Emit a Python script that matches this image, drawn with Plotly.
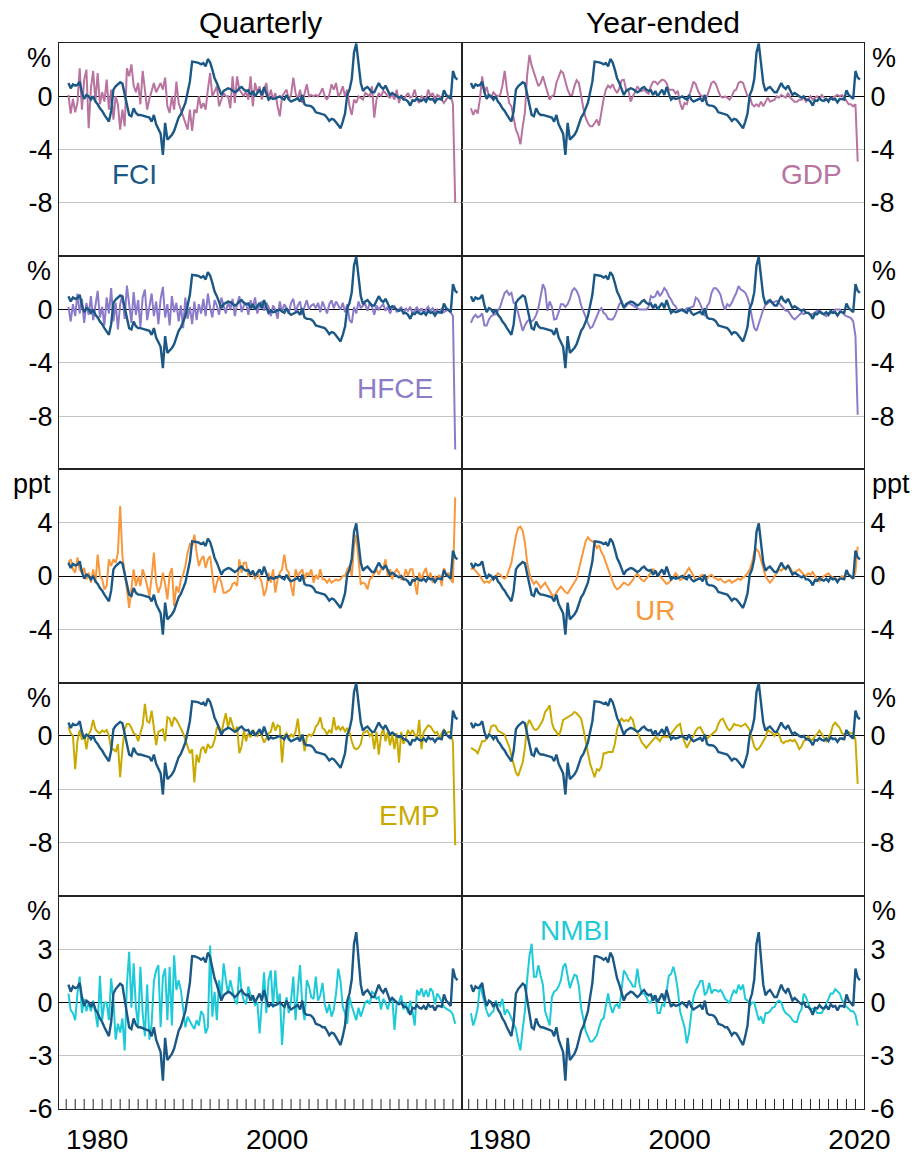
import plotly.graph_objects as go
from plotly.subplots import make_subplots

# ---------------- data (quarterly, first observation 1977 Q1) ----------------
START_YEAR = 1977

FCI = [1.0, 0.6, 0.9, 0.8, 0.85, 1.1, 0.3, -0.2, 0.1, 0.0,
       -0.25, 0.0, -0.4, -0.6, -0.9, -1.1, -1.4, -1.7, -1.9, -1.1,
       0.5, 0.75, 0.9, 1.05, 0.95, 0.1, -0.8, -1.4, -1.5, -0.9,
       -1.25, -1.4, -1.4, -1.45, -1.5, -1.55, -1.6, -1.9, -1.4, -2.1,
       -2.4, -2.8, -4.4, -2.0, -3.25, -3.1, -2.9, -2.6, -2.0, -1.6,
       -1.35, -0.9, -0.5, 0.3, 1.1, 2.6, 2.6, 2.55, 2.5, 2.4,
       2.5, 2.25, 2.8, 2.55, 2.0, 1.35, 1.0, 0.5, 0.1, 0.4,
       0.5, 0.6, 0.55, 0.45, 0.3, 0.4, 0.6, 0.7, 0.5, 0.4,
       0.45, 0.1, 0.4, 0.0, 0.3, 0.5, 0.1, 0.7, 0.2, -0.25,
       -0.1, -0.2, -0.15, -0.1, 0.0, -0.15, -0.25, 0.1, -0.25, -0.4,
       -0.3, -0.2, -0.15, -0.4, 0.1, -0.6, -0.7, -0.7, -0.75, -0.9,
       -1.2, -1.25, -1.3, -1.4, -1.4, -1.6, -1.85, -1.7, -1.75, -1.95,
       -2.2, -2.4, -1.9, -1.3, 0.1, 0.5, 1.3, 3.3, 3.95, 2.6,
       1.0, 0.4, 0.6, 0.7, 0.5, 0.3, 0.3, 0.6, 1.0, 0.7,
       0.55, 0.8, 0.45, 0.1, 0.25, 0.1, 0.0, -0.1, 0.0, -0.25,
       -0.25, -0.4, -0.7, -0.3, -0.35, -0.15, -0.3, -0.35, -0.2, -0.4,
       -0.1, -0.25, -0.2, -0.45, -0.2, -0.2, -0.25, 0.45, 0.1, -0.05,
       -0.2, 1.9, 1.4, 1.25]

GDP_Q = [0.1, -1.3, -0.2, -1.2, -0.5, 2.1, -1.0, 1.25, 2.0, -2.4,
         0.6, 1.9, -0.4, 1.75, -0.6, 0.3, -0.4, 1.25, -1.0, 0.5,
         -1.75, 0.0, -0.6, -2.5, -1.0, -2.25, 2.1, 1.5, 2.4, 0.8,
         0.3, 1.0, -0.6, 1.9, 0.5, -1.0, -0.2, 0.5, 1.0, 0.3,
         0.6, 1.0, 0.5, 1.4, -0.75, -1.25, 0.0, -1.0, 1.1, -0.5,
         -1.0, -1.5, -2.0, -2.5, -1.0, -2.6, -1.0, -1.25, 0.0, -0.9,
         -0.5, -1.0, 0.5, 1.75, 0.0, 0.4, 0.75, -0.75, -0.2, 0.25,
         0.0, 0.0, -0.9, 1.5, -0.5, 1.5, 0.5, 0.25, 0.0, 0.4,
         -0.25, 1.5, -0.75, 1.0, 0.25, 0.75, -0.25, 0.5, 1.0, -0.25,
         0.5, -0.25, 0.25, -0.75, -1.5, 0.0, 0.25, 0.5, -0.25, 0.1,
         1.4, 0.25, -0.25, 0.5, -0.5, 0.25, 0.9, 0.0, 0.1, 0.0,
         0.1, 0.0, 0.25, 0.6, 0.0, -0.25, 0.1, 0.9, 0.5, 1.0,
         0.0, 0.25, 0.75, 0.0, 0.5, -0.75, -1.4, -0.25, -0.5, 0.0,
         -0.1, -0.25, 0.25, 0.1, 0.0, 0.75, -1.6, -0.25, 0.25, 0.0,
         0.4, 0.25, 0.0, -0.1, 0.1, -0.25, 0.5, -0.5, 0.1, -0.25,
         0.0, 0.25, -0.1, 0.0, 0.5, -0.25, -0.5, 0.0, -0.1, -0.25,
         0.5, 0.0, 0.25, -0.25, 0.1, 0.0, -0.25, -0.5, -0.25, 0.0,
         0.1, -0.6, -8.0]

GDP_Y = [-0.9, -1.4, -1.0, -1.3, -0.2, 1.5, 0.25, 0.7, 0.0, -0.1,
         0.3, 0.1, 0.0, 0.1, 0.8, 1.9, 0.5, -0.5, -0.75, -1.6,
         -2.5, -2.9, -3.6, -2.3, -1.2, 1.6, 3.1, 2.3, 1.75, 1.25,
         0.75, 1.0, 1.5, 0.9, 0.25, -0.25, 0.0, 0.1, 1.0, 1.5,
         1.9, 1.75, 1.0, 0.5, 0.1, 0.1, 0.75, 1.2, 1.0, 0.0,
         -0.9, -1.6, -2.0, -2.25, -2.25, -2.0, -1.75, -2.2, -1.0, -0.2,
         0.5, 0.8, 0.65, 0.9, 0.5, 0.25, 0.6, 1.2, 1.25, 0.5,
         0.5, -0.4, 0.0, 0.3, 0.75, 0.5, 0.4, 0.5, 0.3, 0.2,
         0.75, 1.1, 1.1, 0.9, 1.1, 1.25, 1.2, 1.0, 0.5, 0.5,
         0.5, 0.2, 0.4, -0.5, -1.0, -0.5, -0.6, 0.0, 0.6, 1.1,
         0.9, 0.4, 0.1, 0.0, -0.3, 0.0, 0.5, 1.0, 1.1, 0.9,
         0.4, 0.0, -0.1, 0.0, -0.1, -0.25, 0.0, 0.4, 0.5, 1.0,
         1.1, 1.0, 0.5, 0.0, 0.0, -0.6, -0.75, -0.6, -0.75, -0.4,
         -0.75, -0.4, -0.1, -0.4, -0.3, -0.25, 0.0, -0.1, 0.1, 0.0,
         -0.1, 0.25, -0.1, -0.25, -0.4, -0.4, -0.25, -0.25, -0.1, -0.4,
         -0.25, 0.0, -0.25, -0.1, 0.0, -0.25, 0.1, -0.1, -0.25, -0.25,
         -0.1, -0.1, 0.0, 0.1, 0.0, 0.1, -0.1, -0.4, -0.6, -0.6,
         -0.75, -0.6, -4.9]

HFCE_Q = [0.2, -0.9, 0.4, -0.5, 1.2, -0.3, 0.8, -1.0, 0.5, -0.4,
          1.0, -0.8, 0.3, 1.4, -0.6, 0.2, -1.2, 0.9, -0.3, 1.6,
          -0.9, 0.5, -1.5, 0.4, 1.1, -0.7, 1.8, 0.2, -1.0, 1.3,
          -0.4, 0.7, -1.3, 0.9, 1.5, -0.8, 0.3, 1.2, -0.5, 0.6,
          -1.1, 0.8, 1.7, -0.6, 0.4, -1.2, 1.0, -0.2, 0.5, -0.9,
          0.3, -1.4, 0.9, -0.7, 0.2, -1.1, 0.6, -0.8, 0.4, -0.3,
          0.8, -0.5, 1.2, 0.1, -0.6, 0.7, 0.3, -0.4, 0.9, 0.2,
          -0.3, 0.6, 0.0, 0.8, -0.5, 0.4, 1.0, -0.2, 0.3, 0.5,
          -0.4, 0.7, 0.1, 0.9, -0.3, 0.4, 0.6, -0.1, 0.5, 0.2,
          -0.5, 0.3, 0.0, -0.7, 0.6, -0.2, 0.4, 0.1, -0.3, 0.5,
          0.8, -0.2, 0.3, 0.6, -0.4, 0.2, 0.7, 0.0, 0.3, 0.4,
          0.1, 0.5, -0.2, 0.6, 0.2, -0.3, 0.4, 0.7, 0.1, 0.6,
          0.3, 0.0, 0.5, -0.2, 0.4, -0.8, -1.0, 0.2, -0.3, 0.6,
          0.1, 0.3, 0.4, -0.1, 0.5, 0.2, -0.4, 0.3, 0.0, 0.2,
          0.4, -0.1, 0.2, -0.3, 0.1, 0.3, -0.2, 0.0, 0.2, -0.4,
          0.1, -0.1, 0.2, -0.3, -0.1, 0.2, -0.2, 0.1, -0.3, 0.0,
          0.2, -0.1, 0.1, -0.2, 0.0, -0.3, 0.1, -0.2, -0.1, 0.0,
          -0.2, -0.5, -10.5]

HFCE_Y = [-1.0, -0.6, -0.4, -0.6, -0.5, -0.3, -1.2, -1.2, -0.75, -0.5,
          -0.4, -0.35, -0.1, 0.2, 0.75, 1.25, 1.4, 1.1, 1.25, 0.5,
          0.4, -0.3, -0.9, -1.6, -1.2, -0.9, -0.75, -0.9, -0.75, -0.4,
          0.1, 1.1, 1.9, 1.5, -0.1, 0.6, 0.2, -0.75, -0.7, -0.2,
          0.4, 0.4, 0.2, 0.4, 0.8, 1.4, 1.6, 1.4, 1.0, 0.3,
          -0.2, -0.55, -1.0, -1.4, -1.3, -0.9, -0.6, -0.1, 0.1, -0.25,
          -0.4, -0.7, -0.75, -0.75, -0.5, 0.0, 0.4, 0.6, 0.2, 0.25,
          0.5, 0.4, 0.3, 0.15, 0.1, 0.0, 0.0, 0.0, 0.0, 0.2,
          1.0, 0.9, 1.0, 1.4, 1.0, 1.25, 1.6, 1.4, 1.0, 0.75,
          0.4, 0.25, -0.1, 0.0, -0.1, -0.1, 0.1, 0.1, 0.2, 0.25,
          0.9, 0.75, 0.4, 0.0, -0.5, 0.25, 0.5, 1.25, 1.6, 1.6,
          1.4, 1.1, 0.4, 0.0, 0.4, 0.25, 0.5, 0.9, 1.25, 1.75,
          1.5, 1.4, 1.25, 0.9, 0.3, -0.6, -1.4, -1.6, -1.0, -0.5,
          0.0, 0.35, 0.5, 0.6, 0.5, 0.6, 0.65, 0.5, 0.3, 0.1,
          -0.1, -0.1, -0.4, -0.6, -0.75, -0.6, -0.4, -0.25, -0.35, -0.25,
          -0.25, -0.4, -0.35, -0.2, -0.1, -0.1, -0.2, -0.4, -0.5, -0.25,
          -0.3, -0.2, 0.0, 0.0, 0.0, -0.2, -0.4, -0.5, -0.6, -0.65,
          -0.9, -2.0, -7.9]

UR_Q = [1.0, 1.25, 0.5, 0.25, 1.4, 0.5, 0.25, 0.6, -0.25, 0.25,
        -0.5, 0.5, -0.5, 1.6, 0.0, -0.25, -1.0, -0.75, 1.25, 0.75,
        1.25, 1.0, 1.75, 5.25, 1.5, 0.0, -1.0, -2.4, -0.75, 0.5,
        -0.75, 0.0, -0.75, 0.5, 0.0, -0.9, -1.5, -0.1, 1.75, -0.5,
        -1.25, -0.75, 0.25, -0.6, -1.75, 0.1, 0.6, -2.25, -0.75, -1.25,
        -0.25, 0.1, 0.75, 1.75, 2.4, 2.25, 3.1, 1.75, 0.75, 1.25,
        1.5, 0.6, 1.25, 1.5, 0.0, -1.25, -0.5, 0.0, -0.5, -1.25,
        -1.25, -1.1, -1.0, -0.6, -0.5, -0.75, 1.25, 0.25, 1.0, 1.0,
        0.0, 0.1, 0.25, -0.25, 0.25, -0.1, -0.5, -1.5, -1.0, 0.25,
        -0.5, 0.5, -1.25, -0.25, 0.25, 0.5, 1.6, 0.5, 0.25, -0.75,
        -1.5, 0.5, 0.0, 0.25, 0.5, -0.25, 0.25, 0.0, 0.5, -0.5,
        0.1, -0.25, 0.5, -0.25, -0.25, -0.5, -0.25, -0.5, -0.4, -0.25,
        -0.35, -0.25, 0.0, 0.0, 0.5, 0.75, 0.0, 2.25, 3.1, 1.0,
        -0.6, -0.5, -0.6, -1.0, -0.25, -0.1, 0.25, 0.5, 0.1, 0.5,
        0.5, 1.25, 0.0, 0.5, -0.25, 0.25, 0.5, 0.25, -0.25, -0.25,
        0.5, 0.0, 0.5, 0.5, -0.4, -1.4, 0.25, -0.25, 0.25, 0.6,
        -0.25, 0.25, -0.5, 0.0, -0.25, 0.1, -0.75, 0.6, 0.0, 0.25,
        -0.25, -0.5, 5.9]

UR_Y = [0.5, 0.6, 0.4, 0.2, 0.0, -0.3, -0.5, -0.4, -0.5, -0.3,
        -0.2, 0.0, 0.2, 0.1, -0.1, -0.2, 0.0, 0.5, 1.0, 2.0,
        3.0, 3.6, 3.7, 3.4, 2.5, 1.0, 0.2, -0.3, -0.6, -0.4,
        -0.6, -0.9, -0.7, -0.5, -0.8, -1.1, -1.4, -1.5, -1.2, -1.0,
        -0.8, -1.0, -1.2, -1.3, -1.0, -0.8, -0.5, -0.2, 0.5, 1.2,
        2.0, 2.6, 2.9, 2.7, 2.6, 2.5, 2.1, 2.3, 1.8, 1.5,
        1.0, 0.5, 0.0, -0.4, -0.8, -1.0, -0.9, -0.7, -0.5, -0.6,
        -0.7, -0.5, -0.3, 0.0, 0.2, -0.1, -0.3, -0.4, -0.2, 0.0,
        0.3, 0.5, 0.4, 0.2, 0.0, -0.2, -0.4, -0.6, -0.5, -0.3,
        -0.1, 0.2, 0.0, -0.3, -0.2, 0.1, 0.4, 0.6, 0.3, 0.0,
        -0.3, -0.2, 0.0, 0.1, -0.1, -0.2, 0.0, 0.1, -0.1, -0.2,
        -0.3, -0.2, -0.4, -0.5, -0.4, -0.3, -0.5, -0.4, -0.3, -0.2,
        -0.3, -0.1, 0.0, 0.2, 0.5, 1.0, 1.8, 2.0, 1.8, 1.2,
        0.6, 0.0, -0.3, -0.5, -0.3, 0.0, 0.3, 0.5, 0.4, 0.6,
        0.5, 0.8, 0.6, 0.3, 0.2, 0.4, 0.5, 0.3, 0.1, 0.0,
        0.2, 0.1, 0.3, 0.0, -0.3, -0.4, -0.2, 0.0, 0.1, 0.2,
        0.0, -0.1, -0.2, -0.3, -0.2, 0.0, -0.1, 0.2, 0.1, 0.0,
        -0.2, 0.3, 2.2]

EMP_Q = [0.7, 0.2, 0.0, -2.5, -0.4, 0.45, -0.3, 0.1, -1.0, 0.1,
         0.45, 1.2, 0.5, 0.3, 0.2, 0.4, 0.3, 0.45, 0.0, -1.0,
         -1.0, -1.2, -0.6, -3.1, -1.0, 0.5, 0.9, 0.9, 0.6, 0.2,
         0.1, -0.4, 0.2, 0.8, 2.4, 1.1, 1.0, 1.9, 0.6, -0.7,
         0.3, 0.4, 0.5, -0.4, 1.4, 1.3, 0.7, 1.4, 1.2, 0.9,
         0.6, 0.2, -0.3, -0.9, -1.3, -1.0, -3.5, -1.4, -2.0, -1.0,
         -0.8, -1.3, -0.6, -0.9, -0.8, -0.3, 0.6, 0.7, 0.2, 1.0,
         1.7, 0.6, 1.4, 0.8, 0.3, 0.7, -1.3, -0.8, 0.4, -0.4,
         0.2, -0.1, 0.45, 0.2, 0.0, 0.45, 0.0, -0.5, -0.2, 0.2,
         0.3, 1.05, 0.4, 0.8, 0.7, -2.0, 0.0, 0.2, -0.2, 0.1,
         -0.05, 0.3, 1.3, -0.2, 0.0, -1.15, -0.1, 0.1, 0.0, 0.2,
         0.7, 0.9, 1.4, 0.6, 0.45, 0.1, 0.45, 0.2, 1.4, 0.45,
         0.7, 0.45, 0.7, 0.3, 0.6, 0.3, -0.4, -0.9, -1.0, -0.9,
         -0.6, 0.2, 0.3, 0.4, 0.0, 0.2, -1.0, 0.3, -1.4, 0.0,
         0.6, -0.4, 0.3, -0.7, 0.1, -1.0, 0.2, -2.0, 0.3, -0.6,
         -0.2, 0.45, 0.1, 0.45, 0.1, -0.2, 1.2, -1.0, 0.3, 0.6,
         0.8, 0.7, 0.45, 0.2, 0.3, -0.2, 0.2, 0.45, 0.2, 0.3,
         0.3, -0.5, -8.2]

EMP_Y = [-0.9, -1.0, -1.1, -1.3, -0.8, -0.4, -0.4, -0.2, 0.1, 0.7,
         0.8, 0.75, 0.4, 0.3, 0.2, 0.1, -0.4, -0.8, -1.5, -2.2,
         -2.75, -3.0, -2.5, -2.0, -0.9, 0.8, 1.2, 0.8, 0.5, 0.45,
         0.6, 0.9, 1.2, 1.8, 2.0, 2.3, 1.0, 0.5, 0.3, 0.0,
         0.45, 1.2, 1.3, 1.4, 1.5, 1.6, 1.8, 1.7, 1.5, 1.3,
         0.5, -0.4, -1.3, -2.1, -2.6, -3.1, -2.5, -2.6, -2.3, -1.3,
         -1.3, -1.2, -1.2, -1.2, -0.6, 0.5, 1.05, 1.3, 1.1, 1.2,
         1.1, 1.4, 1.2, 0.5, 0.3, -0.1, -0.5, -0.7, -0.9, -0.7,
         -0.45, -0.3, -0.1, -0.2, -0.4, -0.1, -0.05, -0.1, -0.05, 0.2,
         0.4, 0.6, 0.8, 0.9, 0.0, -0.5, -0.9, -0.55, -0.3, 0.0,
         0.4, 0.6, 0.65, 0.3, 0.0, -0.2, -0.05, 0.1, 0.25, 0.4,
         0.9, 1.2, 1.3, 0.9, 0.6, 0.4, 0.6, 0.9, 0.8, 0.8,
         0.7, 0.8, 0.9, 0.7, 0.4, -0.2, -0.8, -1.05, -0.95, -0.7,
         -0.4, -0.1, 0.45, 0.35, 0.2, 0.0, 0.3, 0.1, -0.4, -0.55,
         -0.4, -0.4, -0.3, -0.4, -0.3, -0.6, -1.0, -0.8, -0.4, -0.3,
         0.0, -0.3, -0.3, 0.0, 0.15, 0.4, 0.1, -0.2, -0.4, -0.1,
         0.2, 0.8, 1.0, 0.8, 0.6, 0.2, 0.1, 0.3, 0.3, 0.2,
         0.2, -0.3, -3.6]

NMBI_Q = [0.5, -0.45, -0.6, -1.0, 0.5, 1.45, -0.6, 0.2, -0.5, 0.0,
          -0.5, 0.1, -0.6, -1.4, 1.5, -1.0, 0.0, 0.0, -1.0, 1.35,
          0.1, -2.1, -1.2, -1.7, -0.9, -2.7, 1.0, 2.85, -0.3, 2.2,
          -0.3, -1.3, 2.0, -0.6, -1.9, 1.0, -2.1, -1.2, 1.2, 1.8,
          2.1, -1.4, 1.45, 1.9, -1.0, 2.0, -1.3, 2.65, 0.7, 1.25,
          0.7, -0.25, -1.4, -0.8, -1.1, -1.3, -1.5, -1.0, -1.3, -0.5,
          -0.7, -1.75, -1.4, 3.2, -0.8, 0.6, -1.0, 1.25, 0.3, 2.2,
          1.25, 0.5, 1.25, 0.7, 0.1, -0.1, 2.0, 0.6, 0.1, -0.1,
          0.9, 0.4, 0.2, -0.15, 0.0, -1.75, 0.0, 1.7, -0.6, 1.25,
          1.8, -0.3, 1.8, 0.0, 0.5, -2.4, -0.4, 0.3, -0.6, 0.1,
          1.45, -1.0, 0.7, 2.1, -0.2, -1.0, 1.25, 0.9, 0.3, 0.2,
          1.45, 0.1, 0.4, 1.1, -0.1, -0.6, -0.1, -0.8, -0.4, 0.5,
          1.9, 1.2, -0.25, -0.6, -1.2, 0.3, -0.2, -0.6, -1.0, -0.3,
          -0.8, -0.4, 0.0, 0.1, -0.1, 0.6, 0.5, 0.2, 0.3, -0.4,
          0.2, 0.0, -0.4, 0.1, 0.3, -1.55, 0.0, 0.0, 0.4, -0.4,
          0.0, -0.6, 0.1, -0.5, -1.3, 0.7, 0.4, 0.8, 0.3, 0.7,
          0.3, 0.8, 0.6, -0.1, 0.5, 0.3, 0.0, -0.25, -0.35, -0.45,
          -0.5, -0.7, -1.2]

NMBI_Y = [-0.6, -1.3, -0.9, -0.3, 1.0, 0.5, 0.1, -0.5, -0.8, -0.6,
          -0.5, 0.1, -0.1, -0.2, 0.2, -0.7, -0.4, -0.6, -0.9, -1.2,
          -1.5, -2.2, -2.7, -1.5, -0.5, 1.3, 2.6, 3.3, 1.45, 1.45,
          2.1, 1.5, 1.0, -0.5, -0.9, -1.3, 0.3, 0.6, 0.7, 0.9,
          1.25, 2.0, 2.2, 1.45, 0.8, 1.2, 1.55, 1.5, 0.9, -0.3,
          -0.9, -1.6, -1.9, -2.2, -2.2, -2.0, -1.85, -1.4, -1.0, -0.9,
          -0.25, 0.5, -0.2, -0.6, -0.2, -0.1, -0.35, 0.9, 1.8, 1.6,
          1.3, 1.15, 0.9, 0.9, 1.9, 1.0, 0.5, 0.5, 0.3, 0.0,
          0.0, 0.35, 0.3, -0.6, -0.6, -0.1, -0.2, 0.6, 1.5, 1.6,
          2.0, 1.5, 0.7, -0.5, -1.0, -1.4, -2.3, -1.7, -0.6, 0.3,
          0.7, 0.9, 1.2, 1.2, 0.4, 0.6, 1.1, 0.5, 0.7, 0.7,
          0.6, 0.7, 0.5, 0.2, 0.1, -0.05, 0.4, 0.7, 0.5, 1.0,
          0.7, 1.0, 0.2, 0.1, -0.2, 0.0, 0.0, -0.5, -1.0, -0.8,
          -1.2, -0.6, -0.6, -0.5, -0.3, -0.25, 0.0, 0.1, 0.0, -0.4,
          -0.6, -0.7, -0.8, -1.0, -1.1, -1.1, -0.6, -0.4, 0.5, 0.3,
          -0.1, -0.4, -0.35, -0.4, -0.6, -0.6, -0.6, -0.35, -0.1, 0.2,
          0.5, 0.5, 0.75, 0.6, 0.5, 0.15, -0.05, -0.25, -0.35, -0.5,
          -0.5, -0.7, -1.3]

COLUMN_TITLES = ["Quarterly", "Year-ended"]
ROW_RANGES = [(-12, 4), (-12, 4), (-8, 8), (-12, 4), (-6, 6)]
ROW_TICKS = [[-8, -4, 0], [-8, -4, 0], [-4, 0, 4], [-8, -4, 0], [-6, -3, 0, 3]]
ROW_UNITS = ["%", "%", "ppt", "%", "%"]
YEAR_TICKS = list(range(1977, 2021))
YEAR_LABELS_LEFT = [1980, 2000]
YEAR_LABELS_RIGHT = [1980, 2000, 2020]
X_RANGE = (1976.2, 2020.95)

# ---------------- styling ----------------
FONT = "Liberation Sans, Arial, sans-serif"
FCI_COLOR = "#1b5886"
SERIES = [
    # row, quarterly, year-ended, colour, label, label pixel pos
    (1, GDP_Q, GDP_Y, "#b8749e", "GDP", (811, 174)),
    (2, HFCE_Q, HFCE_Y, "#8b7bc9", "HFCE", (395, 388)),
    (3, UR_Q, UR_Y, "#f8973b", "UR", (655, 610)),
    (4, EMP_Q, EMP_Y, "#c9aa00", "EMP", (409, 815)),
    (5, NMBI_Q, NMBI_Y, "#1ecad8", "NMBI", (575, 930)),
]

W, H = 914, 1154
ML, MR, MT, MB = 59, 50, 43, 45
PW, PH = W - ML - MR, H - MT - MB
ROW_H = PH / 5
TICK_LEN = 10


def px(x):
    return (x - ML) / PW


def py(y):
    return (H - MB - y) / PH


def qdates(n):
    # quarter-end decimal years
    return [START_YEAR + (k + 1) / 4 for k in range(n)]


fig = make_subplots(rows=5, cols=2, horizontal_spacing=0, vertical_spacing=0)

for row, sq, sy, color, label, lpos in SERIES:
    for col, s in ((1, sq), (2, sy)):
        fig.add_trace(go.Scatter(x=qdates(len(s)), y=s, mode="lines",
                                 line=dict(color=color, width=2),
                                 hoverinfo="skip", showlegend=False),
                      row=row, col=col)
        fig.add_trace(go.Scatter(x=qdates(len(FCI)), y=FCI, mode="lines",
                                 line=dict(color=FCI_COLOR, width=2.4),
                                 hoverinfo="skip", showlegend=False),
                      row=row, col=col)

annotations = []
for i, t in enumerate(COLUMN_TITLES):
    annotations.append(dict(x=0.25 + 0.5 * i, y=py(22), xref="paper", yref="paper",
                            text=t, showarrow=False, xanchor="center", yanchor="middle",
                            font=dict(family=FONT, size=30, color="black")))

for r in range(1, 6):
    lo, hi = ROW_RANGES[r - 1]
    ticks = ROW_TICKS[r - 1]
    for c in (1, 2):
        fig.update_yaxes(row=r, col=c, range=[lo, hi], tickvals=ticks,
                         ticktext=[str(v) for v in ticks],
                         side="left" if c == 1 else "right",
                         showgrid=True, gridcolor="#c4c4c4", gridwidth=1,
                         zeroline=True, zerolinecolor="black", zerolinewidth=1.2,
                         showline=True, mirror=True, linecolor="#222", linewidth=1.2,
                         ticks="", tickfont=dict(family=FONT, size=27, color="black"),
                         automargin=False, fixedrange=True)
        xa = dict(range=list(X_RANGE), showgrid=False, zeroline=False,
                  showline=True, mirror=True, linecolor="#222", linewidth=1.2,
                  automargin=False, fixedrange=True, ticks="")
        if r == 5:
            labels = YEAR_LABELS_LEFT if c == 1 else YEAR_LABELS_RIGHT
            xa.update(tickmode="array", tickvals=YEAR_TICKS,
                      ticktext=[str(y) if y in labels else "" for y in YEAR_TICKS],
                      ticklabelshift=4, ticklabelstandoff=5,
                      tickfont=dict(family=FONT, size=28, color="black"))
        else:
            xa.update(showticklabels=False)
        fig.update_xaxes(row=r, col=c, **xa)

    top_px = MT + (r - 1) * ROW_H
    unit = ROW_UNITS[r - 1]
    annotations.append(dict(x=px(53), y=py(top_px + 15), xref="paper", yref="paper",
                            text=unit, showarrow=False, xanchor="right", yanchor="middle",
                            font=dict(family=FONT, size=27, color="black")))
    annotations.append(dict(x=px(870), y=py(top_px + 15), xref="paper", yref="paper",
                            text=unit, showarrow=False, xanchor="left", yanchor="middle",
                            font=dict(family=FONT, size=27, color="black")))

# year tick marks on the bottom row (inside, from the bottom edge)
shapes = []
for c, xname in ((1, "x9"), (2, "x10")):
    yname = "y9" if c == 1 else "y10"
    for yr in YEAR_TICKS:
        shapes.append(dict(type="line", xref=xname, yref=yname + " domain",
                           x0=yr, x1=yr, y0=0, y1=TICK_LEN / ROW_H,
                           line=dict(color="#222", width=1)))

# series labels
annotations.append(dict(x=px(134), y=py(174), xref="paper", yref="paper", text="FCI",
                        showarrow=False, xanchor="center", yanchor="middle",
                        font=dict(family=FONT, size=28, color=FCI_COLOR)))
for row, sq, sy, color, label, (lx, ly) in SERIES:
    annotations.append(dict(x=px(lx), y=py(ly), xref="paper", yref="paper", text=label,
                            showarrow=False, xanchor="center", yanchor="middle",
                            font=dict(family=FONT, size=28, color=color)))

fig.update_layout(width=W, height=H, margin=dict(l=ML, r=MR, t=MT, b=MB, autoexpand=False),
                  paper_bgcolor="white", plot_bgcolor="white",
                  annotations=annotations, shapes=shapes, showlegend=False)

fig.write_html("out.html")
